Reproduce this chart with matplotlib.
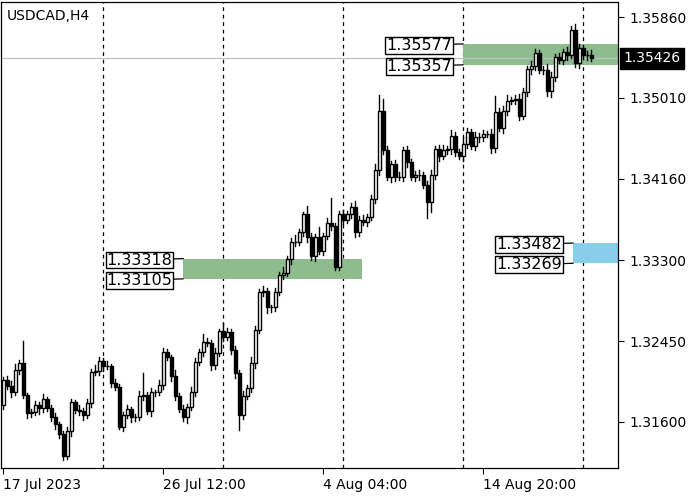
import matplotlib
matplotlib.use("Agg")
import matplotlib.pyplot as plt
from matplotlib.patches import Rectangle

symbol = "USDCAD,H4"
first_open = 1.31778
closes = [1.32041,1.31978,1.31915,1.32146,1.32220,1.31883,1.31694,1.31705,1.31778,1.31747,
          1.31841,1.31747,1.31652,1.31578,1.31473,1.31242,1.31505,1.31810,1.31726,1.31715,
          1.31673,1.31799,1.32125,1.32136,1.32241,1.32189,1.32189,1.32010,1.31968,1.31547,
          1.31673,1.31736,1.31652,1.31652,1.31873,1.31883,1.31715,1.31915,1.31915,1.31989,
          1.32336,1.32283,1.32083,1.31873,1.31736,1.31652,1.31757,1.31915,1.32231,1.32336,
          1.32441,1.32431,1.32199,1.32325,1.32557,1.32494,1.32546,1.32357,1.32115,1.31673,
          1.31873,1.31957,1.32220,1.32567,1.32967,1.32977,1.32809,1.32809,1.32967,1.33146,
          1.33167,1.33314,1.33493,1.33493,1.33598,1.33788,1.33546,1.33346,1.33546,1.33398,
          1.33556,1.33693,1.33661,1.33230,1.33788,1.33725,1.33788,1.33861,1.33598,1.33725,
          1.33704,1.33756,1.33945,1.34250,1.34871,1.34461,1.34177,1.34314,1.34177,1.34177,
          1.34461,1.34335,1.34177,1.34198,1.34198,1.34093,1.33914,1.34198,1.34471,1.34398,
          1.34461,1.34471,1.34608,1.34440,1.34398,1.34524,1.34650,1.34503,1.34598,1.34598,
          1.34629,1.34629,1.34482,1.34861,1.34692,1.34871,1.34976,1.34987,1.34997,1.34819,
          1.35071,1.35313,1.35345,1.35481,1.35303,1.35303,1.35082,1.35229,1.35439,1.35408,
          1.35492,1.35460,1.35723,1.35376,1.35534,1.35460,1.35460,1.35426]
# wick lengths in points (0.00001)
upper_wick = [30,40,50,60,30,230,20,30,40,30,50,20,30,40,20,30,40,30,20,50,
              30,40,30,60,40,30,50,20,40,30,30,40,20,30,50,230,30,40,20,50,
              40,30,20,60,30,40,30,50,40,30,80,40,30,50,20,80,40,30,40,30,
              50,30,60,40,30,50,30,20,40,30,60,30,40,70,30,20,80,40,30,100,
              30,50,260,30,30,40,30,40,60,40,50,30,40,60,170,130,40,30,40,50,
              30,40,30,40,50,30,40,50,30,40,50,30,60,40,30,70,40,30,50,40,
              40,30,50,170,40,50,60,30,40,50,40,30,50,40,30,40,60,50,30,40,
              30,50,40,60,40,30,40,50]
lower_wick = [40,30,50,30,40,30,50,40,30,60,40,30,40,50,40,40,30,50,30,40,
              50,30,40,30,40,50,30,40,30,20,40,30,50,40,30,40,30,50,40,30,
              40,30,50,40,30,40,60,30,40,30,40,30,50,40,30,40,30,40,50,160,
              40,30,40,50,30,40,60,50,40,30,40,30,50,40,30,40,50,40,50,30,
              40,30,40,30,30,40,30,40,50,40,30,40,30,40,50,40,30,50,40,30,
              40,50,30,40,50,30,170,110,40,50,30,40,50,40,30,50,40,30,40,50,
              40,30,50,40,30,50,40,30,40,40,30,40,50,40,30,40,50,60,40,30,
              40,50,30,40,50,40,50,30]

tick_values = [1.35860, 1.35010, 1.34160, 1.33300, 1.32450, 1.31600]
date_labels = ["17 Jul 2023", "26 Jul 12:00", "4 Aug 04:00", "14 Aug 20:00"]
date_bars = [0, 40, 80, 120]
grid_bars = [25, 55, 85, 115, 145]
current_price = 1.35426
zones = [
    (45, 89.75, 1.33105, 1.33318, "#8fbc8f"),
    (115, 160, 1.35357, 1.35577, "#8fbc8f"),
    (142.5, 160, 1.33269, 1.33482, "#87ceeb"),
]

fig = plt.figure(figsize=(7, 5), dpi=100)
ax = fig.add_axes([0.002, 0.064, 0.881, 0.932])
ax.set_xlim(-0.5, 153.75)
ax.set_ylim(1.31115, 1.36018)

for gb in grid_bars:
    ax.axvline(gb, color="black", lw=0.9, ls=(0, (3, 3)), zorder=1)

for xs, xe, lo, hi, col in zones:
    ax.add_patch(Rectangle((xs, lo), xe - xs, hi - lo, facecolor=col, edgecolor="none", zorder=2))

ax.axhline(current_price, color="#c0c0c0", lw=0.9, zorder=2)

opens = [first_open] + closes[:-1]
for i, (o, c) in enumerate(zip(opens, closes)):
    h = max(o, c) + upper_wick[i] * 1e-5
    l = min(o, c) - lower_wick[i] * 1e-5
    ax.plot([i, i], [l, h], color="black", lw=1.0, zorder=3)
    bot = min(o, c)
    ht = max(abs(c - o), 0.00004)
    fc = "white" if c >= o else "black"
    ax.add_patch(Rectangle((i - 0.4, bot), 0.8, ht, facecolor=fc, edgecolor="black", lw=1.0, zorder=4))

def label(xbar, price, dy):
    ax.annotate(f"{price:.5f}", xy=(xbar, price), xytext=(-8, dy), textcoords="offset points",
                ha="right", va="center", fontsize=11.5,
                bbox=dict(boxstyle="square,pad=0.05", fc="white", ec="black", lw=1.0), zorder=6,
                arrowprops=dict(arrowstyle="-", color="black", lw=0.9, shrinkA=0, shrinkB=0))
for xs, xe, lo, hi, col in zones:
    label(xs, hi, -1)
    label(xs, lo, -1)

ax.text(0.008, 0.985, symbol, transform=ax.transAxes, ha="left", va="top", fontsize=10)

ax.yaxis.tick_right()
ax.set_yticks(tick_values)
ax.set_yticklabels([f"{v:.5f}" for v in tick_values], fontsize=10)
ax.tick_params(axis="y", length=4, direction="out", pad=4)
ax.set_xticks(date_bars)
ax.set_xticklabels(date_labels, fontsize=10, ha="left")
ax.tick_params(axis="x", length=4, pad=3)
ax.text(1.008, current_price, f"{current_price:.5f}", transform=ax.get_yaxis_transform(), ha="left", va="center",
        fontsize=10, color="white", bbox=dict(boxstyle="square,pad=0.25", fc="black", ec="black"), zorder=7)
for s in ax.spines.values():
    s.set_color("black")
    s.set_linewidth(0.9)
fig.savefig("out.png", dpi=100)
